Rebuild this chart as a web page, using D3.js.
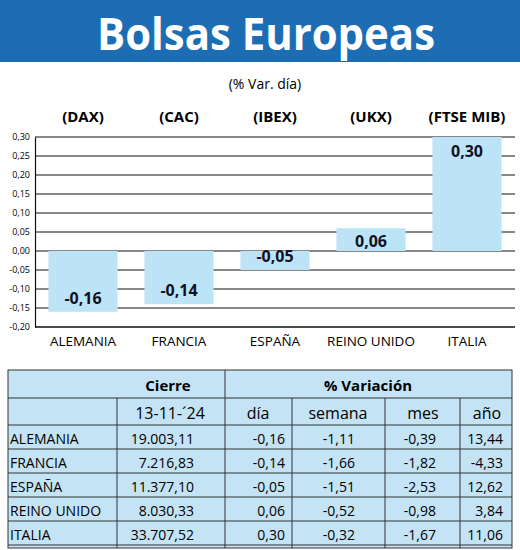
<!DOCTYPE html><html><head><meta charset="utf-8"><script src="https://cdn.jsdelivr.net/npm/d3@7"></script>
<style>body{margin:0;background:#fff}text{font-family:"Open Sans",sans-serif}</style></head><body><svg id="c" width="520" height="550"></svg>
<script>
const countries=["ALEMANIA","FRANCIA","ESPAÑA","REINO UNIDO","ITALIA"];
const indices=["(DAX)","(CAC)","(IBEX)","(UKX)","(FTSE MIB)"];
const dayVar=[-0.16,-0.14,-0.05,0.06,0.30];
const yTicks=[0.30,0.25,0.20,0.15,0.10,0.05,0,-0.05,-0.10,-0.15,-0.20];
const cierre=["19.003,11","7.216,83","11.377,10","8.030,33","33.707,52"];
const semana=["-1,11","-1,66","-1,51","-0,52","-0,32"];
const mes=["-0,39","-1,82","-2,53","-0,98","-1,67"];
const anio=["13,44","-4,33","12,62","3,84","11,06"];
const fmt=v=>d3.format(".2f")(v).replace(".",",").replace("−","-");
const svg=d3.select("#c");
svg.append("rect").attr("x",0).attr("y",0).attr("width",520).attr("height",62).attr("fill","#1c6db3");
svg.append("text").attr("x",266).attr("y",50).attr("text-anchor","middle").attr("fill","#fff").attr("font-size",44).attr("font-weight",700).attr("textLength",338).attr("lengthAdjust","spacingAndGlyphs").text("Bolsas Europeas");
svg.append("text").attr("x",265).attr("y",89).attr("text-anchor","middle").attr("font-size",14).text("(% Var. día)");
const y=d3.scaleLinear().domain([-0.2,0.3]).range([327,137]);
const x=d3.scaleBand().domain(countries).range([35,515]).paddingInner(0.28).paddingOuter(0.14);
const g=svg.append("g");
g.selectAll(".grid").data(yTicks).join("line").attr("x1",35).attr("x2",515).attr("y1",d=>y(d)).attr("y2",d=>y(d)).attr("stroke","#111").attr("stroke-width",1.2);
g.append("g").attr("transform","translate(35,0)").call(d3.axisLeft(y).tickValues(yTicks).tickFormat(fmt).tickSize(0).tickPadding(5))
 .call(a=>{a.select(".domain").attr("stroke","#111").attr("stroke-width",1.2);a.selectAll("text").attr("font-size",9).attr("font-family","Open Sans")});
g.selectAll(".bar").data(dayVar).join("rect").attr("x",(d,i)=>x(countries[i])).attr("width",x.bandwidth())
 .attr("y",d=>y(Math.max(0,d))).attr("height",d=>Math.abs(y(d)-y(0))).attr("fill","#bde3f7");
g.selectAll(".vl").data(dayVar).join("text").attr("x",(d,i)=>x(countries[i])+x.bandwidth()/2)
 .attr("y",(d,i)=>d<0?y(d)-8:(i==4?y(d)+20:y(d)+19)).attr("text-anchor","middle").attr("font-size",16).attr("font-weight",700).attr("fill","#112").text(fmt);
g.selectAll(".idx").data(indices).join("text").attr("x",(d,i)=>x(countries[i])+x.bandwidth()/2).attr("y",122).attr("text-anchor","middle").attr("font-size",15).attr("font-weight",700).text(d=>d);
g.selectAll(".cat").data(countries).join("text").attr("x",d=>x(d)+x.bandwidth()/2).attr("y",346).attr("text-anchor","middle").attr("font-size",13.5).text(d=>d);
g.append("line").attr("x1",35).attr("x2",515).attr("y1",327).attr("y2",327).attr("stroke","#111").attr("stroke-width",1.2);
// table
const t=svg.append("g");
t.append("rect").attr("x",8).attr("y",370).attr("width",504).attr("height",178).attr("fill","#c4e4f5").attr("stroke","#333");
const rowsY=[398,425,449,473,497,521,545];
t.selectAll(".hl").data(rowsY).join("line").attr("x1",8).attr("x2",512).attr("y1",d=>d).attr("y2",d=>d).attr("stroke","#333").attr("stroke-width",1);
t.append("line").attr("x1",225).attr("x2",225).attr("y1",370).attr("y2",548).attr("stroke","#333");
t.selectAll(".vlc").data([117,292,385,460]).join("line").attr("x1",d=>d).attr("x2",d=>d).attr("y1",398).attr("y2",548).attr("stroke","#333");
t.append("text").attr("x",168).attr("y",391).attr("text-anchor","middle").attr("font-size",15).attr("font-weight",700).text("Cierre");
t.append("text").attr("x",368).attr("y",391).attr("text-anchor","middle").attr("font-size",15).attr("font-weight",700).text("% Variación");
const hdr=["13-11-´24","día","semana","mes","año"];
const hx=[170,258,338,423,487];
hdr.forEach((h,i)=>t.append("text").attr("x",hx[i]).attr("y",419).attr("text-anchor","middle").attr("font-size",16).text(h));
const cellR=[180,285,355,436,503];
countries.forEach((c,r)=>{
 const yy=rowsY[r+1]+19;
 t.append("text").attr("x",10).attr("y",yy).attr("font-size",14).text(c);
 [cierre[r],fmt(dayVar[r]),semana[r],mes[r],anio[r]].forEach((v,j)=>t.append("text").attr("x",cellR[j]+(j==0?14:0)).attr("y",yy).attr("text-anchor","end").attr("font-size",14).text(v));
});
</script></body></html>
